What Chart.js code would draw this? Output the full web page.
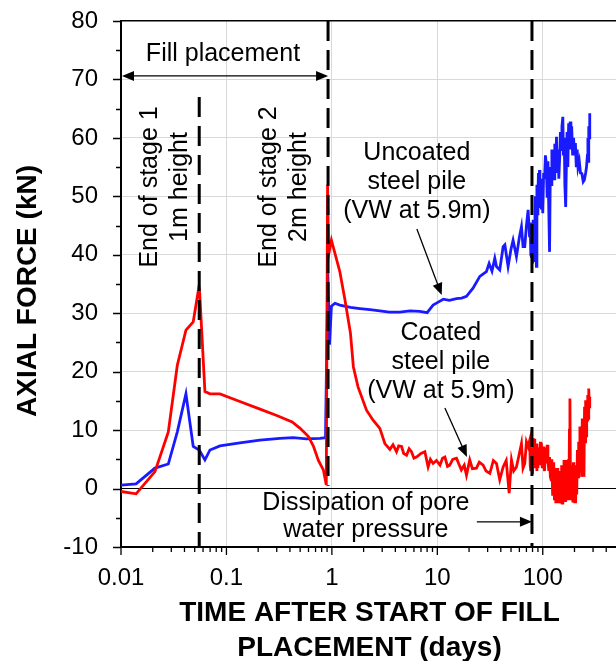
<!DOCTYPE html>
<html><head><meta charset="utf-8">
<script src="https://cdn.jsdelivr.net/npm/chart.js@4/dist/chart.umd.min.js"></script>
<style>html,body{margin:0;padding:0;background:#fff;}canvas{display:block;}</style>
</head><body>
<canvas id="c" width="616" height="661"></canvas>
<script>
const FONT = '"Liberation Sans", Arial, Helvetica, sans-serif';

// ---- tick labels ----
const xTickDecades = [0.01, 0.1, 1, 10, 100];
const xTickLabels = ['0.01', '0.1', '1', '10', '100'];
const yTickValues = [-10, 0, 10, 20, 30, 40, 50, 60, 70, 80];

// ---- Uncoated steel pile (blue) ----
const uncoatedDays = [
  0.01, 0.0139, 0.021, 0.0281, 0.0342, 0.0413, 0.0484, 0.0552, 0.0625, 0.0698,
  0.0868, 0.134, 0.208, 0.321, 0.43, 0.575, 0.769, 0.87, 0.915, 0.95,
  0.99, 1.07, 1.19, 1.5, 1.84, 2.3, 2.85, 3.5, 4.41, 5.5,
  6.83, 8.0, 9.12, 10.2, 11.4, 13, 15.2, 17, 18.9, 21.8,
  25.3, 29.2, 31, 33, 35.1, 36.4, 39.1, 42.1, 43.7, 46.9,
  50, 52.3, 56.3, 60, 62.8, 65, 67.5, 70, 72.6, 75,
  76, 77, 78, 79, 80, 81, 82, 83, 84, 85,
  86, 87, 88, 89, 90, 91, 92, 93, 94, 95,
  97, 98, 100, 102, 104, 106, 108, 110, 112, 114,
  116, 118, 120, 122, 124, 126, 128, 130, 132, 135,
  137, 140, 142, 145, 147, 150, 152, 155, 157, 160,
  162, 165, 168, 170, 173, 176, 179, 182, 185, 188,
  192, 196, 200, 204, 208, 212, 216, 222, 228, 235,
  242, 248, 255, 260, 265, 268, 270, 273, 276, 279];
const uncoatedKN = [
  0.6, 0.8, 3.5, 4.2, 9.7, 16.2, 7.2, 6.6, 4.9, 6.6,
  7.3, 7.8, 8.3, 8.6, 8.7, 8.5, 8.6, 8.7, 37, 24.6,
  31.2, 31.7, 31.4, 31.0, 30.8, 30.6, 30.4, 30.2, 30.2, 30.4,
  30.3, 30.1, 31.4, 31.9, 32.4, 32.2, 32.5, 32.6, 32.9, 34.3,
  36.3, 37.1, 38.5, 37.2, 39.4, 38.0, 37.4, 41.4, 41.7, 38,
  41, 42.5, 39.7, 43, 44.8, 41.4, 41.4, 45, 47.7, 43,
  45.5, 40, 39.7, 42, 38.5, 46, 44, 39, 44.2, 50,
  41, 38, 52, 47, 50, 54, 48, 54.5, 50, 52,
  48, 53, 47.1, 54, 53, 57, 55.6, 50, 56, 48,
  40.5, 55, 52, 58, 54, 57.9, 53, 59, 55, 60.2,
  54, 58, 53, 57, 61, 58, 62, 63.6, 57, 60,
  52, 48.2, 57, 61, 55, 62.5, 59, 62.8, 58, 62,
  57, 60, 57, 59.1, 55, 58, 55, 56, 54, 53.9,
  52.5, 52.8, 54, 55, 57, 60, 56, 62, 60, 64.2];

// ---- Coated steel pile (red) ----
const coatedDays = [
  0.01, 0.0139, 0.021, 0.0281, 0.0342, 0.0413, 0.0484, 0.0548, 0.0558, 0.0625,
  0.0698, 0.0868, 0.134, 0.208, 0.30, 0.42, 0.50, 0.60, 0.67, 0.745,
  0.83, 0.885, 0.91, 0.93, 0.99, 1.19, 1.33, 1.5, 1.6, 1.77,
  2.13, 2.46, 2.85, 3.18, 3.55, 3.8, 4.1, 4.3, 4.58, 4.8,
  5.11, 5.4, 5.69, 6.0, 6.35, 7.0, 7.62, 8.18, 8.6, 9.12,
  9.8, 10.6, 11.2, 11.8, 12.5, 13.1, 14, 15.2, 16.0, 16.9,
  18.0, 18.9, 20.3, 21.5, 23.5, 25, 27.2, 29, 31.5, 34,
  36.4, 39.1, 42.1, 45, 48.0, 50.5, 53, 56.3, 60, 62.8,
  65, 67.5, 70, 72.6, 75.3, 76, 77, 78, 79, 80,
  81, 82, 83, 84, 85, 86, 87, 88, 89, 90,
  91, 92, 93, 95, 96, 97, 99, 100.7, 102, 104,
  106, 108, 110, 112, 114, 116, 118, 120, 122, 124,
  125, 127, 129, 131, 133, 135, 137, 139, 141, 143,
  145, 147, 149, 151, 153, 155, 157, 159, 161, 163,
  165, 167, 169, 171, 173, 175, 177, 179, 181, 183,
  185, 187, 189, 191, 193, 195, 197, 199, 201, 203,
  205, 207, 210, 213, 216, 219, 222, 225, 228, 231,
  234, 237, 240, 243, 246, 249, 252, 255, 258, 261,
  264, 267, 270, 273, 276, 279];
const coatedKN = [
  -0.5, -0.9, 2.9, 9.7, 21.1, 27.1, 28.5, 34.5, 33.4, 16.6,
  16.2, 16.2, 14.9, 13.6, 12.5, 11.4, 10.3, 8.9, 7.2, 4.8,
  3.2, 0.6, 52, 40, 42.5, 37.1, 32.3, 26.6, 20.8, 17.4,
  13.4, 11.7, 10.3, 7.7, 6.7, 7.5, 6.3, 7.3, 7.2, 6.0,
  5.7, 6.8, 6.3, 5.2, 5.4, 6.0, 6.3, 3.7, 5.0, 4.3,
  4.8, 4.0, 5.2, 5.4, 3.8, 4.0, 5.0, 5.2, 4.2, 3.2,
  4.0, 2.3, 4.9, 3.4, 3.5, 4.5, 4.0, 3.0, 2.6, 4.8,
  4.3, 1.5, 3.7, 4.8, -0.8, 4.9, 3.0, 3.7, 6.0, 7.7,
  3.5, 4.3, 8.0, 7.2, 8.3, 4, 3, 7, 6, 2.5,
  8.6, 4, 8.5, 3.5, 7, 5, 7.7, 3, 6.5, 3.5,
  7, 4, 4.9, 8, 4, 7.8, 3.5, 7.2, 4, 3,
  7, 4.3, 7.5, 5, 3, 5.4, 2, 1.5, 5, -1,
  0.3, 4.5, -2, 3.5, -2.5, 3, -2, 3.5, -2.5, 2.6,
  -2, 3, -2.3, 4, -2.5, 4, -2, 4.9, -2, 3,
  -2.3, 4.9, -1.5, 3, -2, 5, -2, 10, 15.4, 2,
  -2, 4, -1.4, 3, -2.4, 4.5, -2, 3.7, -2.5, 2,
  -2.5, 4, -1, 6.6, 2, 8, 3, 10.6, 3, 8,
  2, 12, 5, 11, 2, 14, 8, 15.1, 9, 13,
  11.7, 16, 12, 17.1, 14, 15.7];

// ---- dashed event markers (days, from kN, to kN) ----
const markerDays = [0.0552, 0.92, 79];
const markerTopKN = [67, 80, 80];
const markerBottomKN = [-10, 0.5, -10];

// ---- annotation texts ----
const fillText = 'Fill placement';
const stage1Text = ['End of stage 1', '1m height'];
const stage2Text = ['End of stage 2', '2m height'];
const uncoatedText = ['Uncoated', 'steel pile', '(VW at 5.9m)'];
const coatedText = ['Coated', 'steel pile', '(VW at 5.9m)'];
const dissipationText = ['Dissipation of pore', 'water pressure'];
const yTitle = 'AXIAL FORCE (kN)';
const xTitle = ['TIME AFTER START OF FILL', 'PLACEMENT (days)'];

// annotation anchors (in data units: days, kN)
const notes = {
  fill: {x: 0.0927, y: 74.4},
  fillArrow: {x1: 0.01, x2: 0.92, y: 70.6},
  stage1: {x: 0.0261, y: 51.6},
  stage2: {x: 0.351, y: 51.6},
  uncoated: {x: 6.4, y: 52.45},
  uncoatedArrow: {x1: 6.4, y1: 44.4, x2: 11.0, y2: 33.1},
  coated: {x: 10.8, y: 21.65},
  coatedArrow: {x1: 11.8, y1: 13.8, x2: 19.1, y2: 5.4},
  dissipation: {x: 2.1, y: -4.8},
  dissipationArrow: {x1: 23.7, x2: 79, y: -5.7}
};

const toPts = (xs, ys) => xs.map((d, i) => ({x: d, y: ys[i]}));

function head(ctx, x1, y1, x2, y2, len, half) {
  const a = Math.atan2(y2 - y1, x2 - x1);
  const c = Math.cos(a), s = Math.sin(a);
  ctx.beginPath();
  ctx.moveTo(x2, y2);
  ctx.lineTo(x2 - len * c + half * s, y2 - len * s - half * c);
  ctx.lineTo(x2 - len * c - half * s, y2 - len * s + half * c);
  ctx.closePath();
  ctx.fill();
}
function arrow(ctx, x1, y1, x2, y2, both) {
  const a = Math.atan2(y2 - y1, x2 - x1);
  const len = 12, half = 5;
  const sx = both ? x1 + len * 0.8 * Math.cos(a) : x1, sy = both ? y1 + len * 0.8 * Math.sin(a) : y1;
  ctx.beginPath();
  ctx.moveTo(sx, sy);
  ctx.lineTo(x2 - len * 0.8 * Math.cos(a), y2 - len * 0.8 * Math.sin(a));
  ctx.stroke();
  head(ctx, x1, y1, x2, y2, len, half);
  if (both) head(ctx, x2, y2, x1, y1, len, half);
}
function lines(ctx, arr, cx, cy, step) {
  arr.forEach((t, i) => ctx.fillText(t, cx, cy + (i - (arr.length - 1) / 2) * step));
}

const annotPlugin = {
  id: 'annot',
  afterDraw(chart) {
    const {ctx, chartArea: ca} = chart;
    const X = v => chart.scales.x.getPixelForValue(v);
    const Y = v => chart.scales.y.getPixelForValue(v);
    ctx.save();
    // tick marks
    ctx.strokeStyle = '#000';
    ctx.lineWidth = 1.3;
    ctx.beginPath();
    xTickDecades.forEach(d => {
      const px = X(d);
      ctx.moveTo(px, ca.bottom); ctx.lineTo(px, ca.bottom + 8);
      for (let k = 2; k <= 9; k++) {
        const v = d * k;
        if (v > chart.scales.x.max) break;
        const p = X(v);
        ctx.moveTo(p, ca.bottom); ctx.lineTo(p, ca.bottom + 5);
      }
    });
    yTickValues.forEach(v => {
      const py = Math.round(Y(v)) + 0.5;
      ctx.moveTo(ca.left, py); ctx.lineTo(ca.left - 8, py);
      if (v < 80) {
        const pm = Math.round(Y(v + 5)) + 0.5;
        ctx.moveTo(ca.left, pm); ctx.lineTo(ca.left - 5, pm);
      }
    });
    ctx.stroke();

    ctx.fillStyle = '#000';
    ctx.strokeStyle = '#000';
    ctx.lineWidth = 1.3;
    ctx.textAlign = 'center';
    ctx.textBaseline = 'middle';
    ctx.font = '25px ' + FONT;
    ctx.fillText(fillText, X(notes.fill.x), Y(notes.fill.y));
    arrow(ctx, X(notes.fillArrow.x1) + 1, Y(notes.fillArrow.y), X(notes.fillArrow.x2), Y(notes.fillArrow.y), true);
    [[stage1Text, notes.stage1], [stage2Text, notes.stage2]].forEach(([txt, p]) => {
      ctx.save();
      ctx.translate(X(p.x), Y(p.y));
      ctx.rotate(-Math.PI / 2);
      lines(ctx, txt, 0, 0, 30);
      ctx.restore();
    });
    lines(ctx, uncoatedText, X(notes.uncoated.x), Y(notes.uncoated.y), 29);
    arrow(ctx, X(notes.uncoatedArrow.x1), Y(notes.uncoatedArrow.y1), X(notes.uncoatedArrow.x2), Y(notes.uncoatedArrow.y2), false);
    lines(ctx, coatedText, X(notes.coated.x), Y(notes.coated.y), 29);
    arrow(ctx, X(notes.coatedArrow.x1), Y(notes.coatedArrow.y1), X(notes.coatedArrow.x2), Y(notes.coatedArrow.y2), false);
    lines(ctx, dissipationText, X(notes.dissipation.x), Y(notes.dissipation.y), 27);
    arrow(ctx, X(notes.dissipationArrow.x1), Y(notes.dissipationArrow.y), X(notes.dissipationArrow.x2), Y(notes.dissipationArrow.y), false);

    // axis titles
    ctx.font = 'bold 28px ' + FONT;
    ctx.save();
    ctx.translate(28, (ca.top + ca.bottom) / 2 + 7);
    ctx.rotate(-Math.PI / 2);
    ctx.fillText(yTitle, 0, 0);
    ctx.restore();
    const cx = (ca.left + ca.right) / 2 + 1;
    ctx.fillText(xTitle[0], cx, 613);
    ctx.fillText(xTitle[1], cx, 648);
    ctx.restore();
  }
};

const markerSets = markerDays.map((d, i) => ({
  label: 'marker' + i,
  data: [{x: d, y: markerTopKN[i]}, {x: d, y: markerBottomKN[i]}],
  borderColor: '#000', borderWidth: 3, borderDash: [20, 9], pointRadius: 0, order: 0
}));

new Chart(document.getElementById('c'), {
  type: 'line',
  data: {
    datasets: [
      ...markerSets,
      {label: 'Coated steel pile', data: toPts(coatedDays, coatedKN), borderColor: '#ff0000', borderWidth: 2.8, pointRadius: 0, tension: 0, order: 1},
      {label: 'Uncoated steel pile', data: toPts(uncoatedDays, uncoatedKN), borderColor: '#1a1aff', borderWidth: 2.8, pointRadius: 0, tension: 0, order: 2}
    ]
  },
  options: {
    responsive: false, animation: false, devicePixelRatio: 1,
    layout: {padding: {top: 21, right: 0, bottom: 0, left: 0}},
    plugins: {legend: {display: false}, tooltip: {enabled: false}},
    scales: {
      x: {
        type: 'logarithmic', min: 0.01, max: 495,
        afterBuildTicks: s => { s.ticks = xTickDecades.map(v => ({value: v})); },
        afterFit: s => { s.height = 114; s.paddingLeft = 0; s.paddingRight = 0; },
        ticks: {autoSkip: false, maxRotation: 0, minRotation: 0, padding: 17, color: '#000', font: {family: FONT, size: 24},
          callback: v => { const i = xTickDecades.indexOf(v); return i >= 0 ? xTickLabels[i] : ''; }},
        grid: {drawTicks: false, color: c => (c.tick && c.tick.value > 0.01) ? '#d9d9d9' : 'rgba(0,0,0,0)', lineWidth: 1},
        border: {color: '#000', width: 2}
      },
      y: {
        type: 'linear', min: -10, max: 80,
        afterBuildTicks: s => { s.ticks = yTickValues.map(v => ({value: v})); },
        afterFit: s => { s.width = 121; s.paddingTop = 0; s.paddingBottom = 0; },
        ticks: {padding: 23, color: '#000', font: {family: FONT, size: 24}, callback: v => String(v)},
        grid: {drawTicks: false,
          color: c => (c.tick && (c.tick.value === 0 || c.tick.value === 80)) ? '#000' : (c.tick && c.tick.value === -10 ? 'rgba(0,0,0,0)' : '#d9d9d9'),
          lineWidth: c => (c.tick && c.tick.value === 80) ? 1.5 : 1},
        border: {color: '#000', width: 2}
      }
    }
  },
  plugins: [annotPlugin]
});
</script>
</body></html>
